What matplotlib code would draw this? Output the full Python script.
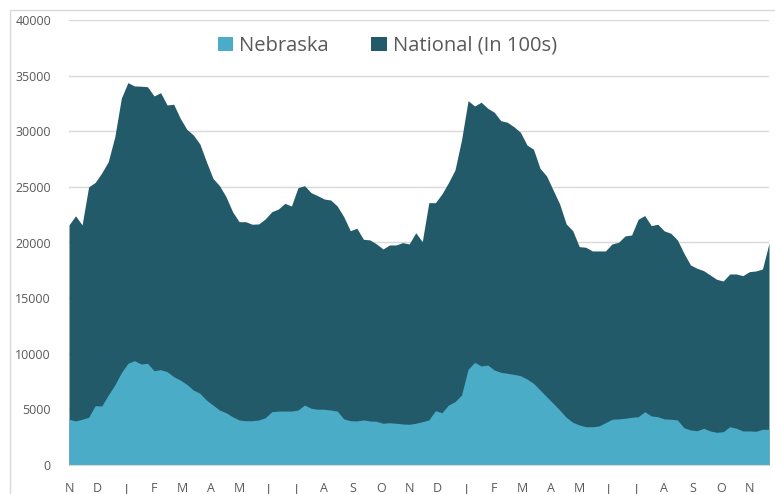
import matplotlib
matplotlib.use('Agg')
import matplotlib.pyplot as plt
import numpy as np
from matplotlib.patches import Rectangle

# weekly values
national = [21580, 22400, 21580, 25000, 25400, 26250, 27270, 29500, 32970, 34370,
            34070, 34050, 34000, 33170, 33470, 32360, 32430, 31170, 30180, 29670,
            28860, 27270, 25770, 25110, 24120, 22770, 21870, 21870, 21640, 21670,
            22120, 22770, 23010, 23520, 23280, 24930, 25110, 24480, 24210, 23910,
            23820, 23280, 22320, 21060, 21280, 20290, 20230, 19870, 19420, 19780,
            19780, 19990, 19870, 20880, 20080, 23580, 23580, 24360, 25380, 26520,
            29220, 32750, 32270, 32610, 32070, 31710, 30950, 30810, 30410, 29910,
            28770, 28380, 26670, 25980, 24720, 23460, 21670, 21060, 19630, 19570,
            19240, 19240, 19240, 19870, 20020, 20590, 20680, 22090, 22420, 21520,
            21640, 21040, 20830, 20230, 19030, 17980, 17680, 17470, 17080, 16690,
            16540, 17170, 17170, 17020, 17380, 17440, 17620, 19930]
nebraska = [4110, 3960, 4110, 4290, 5330, 5300, 6290, 7190, 8300, 9140,
            9380, 9080, 9140, 8480, 8570, 8390, 7940, 7640, 7250, 6740,
            6450, 5840, 5390, 4940, 4700, 4340, 4050, 3980, 3980, 4050,
            4250, 4790, 4850, 4850, 4850, 4940, 5390, 5100, 5010, 5010,
            4940, 4850, 4140, 3980, 3960, 4050, 3960, 3930, 3750, 3800,
            3750, 3690, 3660, 3750, 3890, 4050, 4880, 4700, 5390, 5690,
            6290, 8600, 9230, 8900, 8990, 8540, 8330, 8240, 8150, 8030,
            7730, 7340, 6740, 6140, 5550, 4940, 4290, 3840, 3600, 3440,
            3440, 3510, 3800, 4110, 4140, 4200, 4290, 4340, 4790, 4410,
            4340, 4140, 4110, 4050, 3350, 3150, 3080, 3300, 3060, 2940,
            2990, 3440, 3300, 3060, 3060, 3030, 3210, 3210]
months = ['N', 'D', 'J', 'F', 'M', 'A', 'M', 'J', 'J', 'A', 'S', 'O',
          'N', 'D', 'J', 'F', 'M', 'A', 'M', 'J', 'J', 'A', 'S', 'O', 'N']

plt.rcParams['font.family'] = ['Open Sans', 'DejaVu Sans']

weeks = np.arange(len(national))
fig = plt.figure(figsize=(7.75, 4.94), dpi=100)
ax = fig.add_axes([69 / 775, 1 - 465 / 494, 700 / 775, 445 / 494])

ax.fill_between(weeks, national, color='#235a69', lw=0, label='National (In 100s)', zorder=2)
ax.fill_between(weeks, nebraska, color='#4aacc6', lw=0, label='Nebraska', zorder=3)

ax.set_xlim(0, len(national) - 1)
ax.set_ylim(0, 40000)
ax.set_yticks(np.arange(0, 40001, 5000))
ax.grid(axis='y', color='#d9d9d9', lw=1, zorder=0)
ax.set_axisbelow(True)
ax.set_xticks(np.arange(len(months)) * 52 / 12)
ax.set_xticklabels(months)
ax.tick_params(axis='both', length=0, colors='#595959', labelsize=9)
ax.tick_params(axis='y', pad=13)
ax.tick_params(axis='x', pad=12)
for s in ['top', 'right', 'left']:
    ax.spines[s].set_visible(False)
ax.spines['bottom'].set_color('#d9d9d9')
ax.spines['bottom'].set_zorder(5)

h, l = ax.get_legend_handles_labels()
fig.legend(h[::-1], l[::-1], loc='center', bbox_to_anchor=(0.5, 0.907), ncol=2,
           frameon=False, fontsize=14.5, labelcolor='#595959',
           handlelength=0.75, handleheight=0.75, handletextpad=0.3, columnspacing=2.1)

fig.patches.append(Rectangle((10 / 775, -0.1), 1.1, 1 - 10 / 494 + 0.1,
                             transform=fig.transFigure, fill=False,
                             edgecolor='#d9d9d9', lw=1))

fig.savefig('out.png', dpi=100)
